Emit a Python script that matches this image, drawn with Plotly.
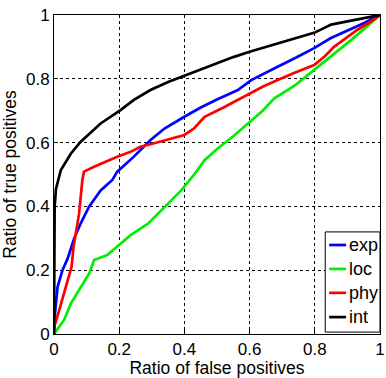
import plotly.graph_objects as go

names = ["exp", "loc", "phy", "int"]
colors = ["#0000ff", "#00ee00", "#ff0000", "#000000"]

exp_x = [0, 0.001, 0.011, 0.026, 0.042, 0.062, 0.082, 0.108, 0.143, 0.179, 0.194, 0.245, 0.296, 0.34, 0.40, 0.45, 0.50, 0.55, 0.564, 0.605, 0.64, 0.686, 0.74, 0.798, 0.848, 0.9, 0.95, 1.0]
exp_y = [0, 0.044, 0.148, 0.20, 0.237, 0.30, 0.347, 0.40, 0.45, 0.483, 0.509, 0.556, 0.608, 0.645, 0.681, 0.71, 0.735, 0.758, 0.765, 0.796, 0.815, 0.838, 0.865, 0.896, 0.927, 0.95, 0.974, 1.0]

loc_x = [0, 0.031, 0.052, 0.082, 0.108, 0.123, 0.143, 0.164, 0.194, 0.235, 0.29, 0.34, 0.391, 0.43, 0.462, 0.50, 0.55, 0.595, 0.64, 0.676, 0.74, 0.798, 0.85, 0.899, 0.95, 1.0]
loc_y = [0, 0.044, 0.096, 0.148, 0.19, 0.232, 0.24, 0.248, 0.274, 0.31, 0.347, 0.40, 0.451, 0.50, 0.545, 0.58, 0.62, 0.66, 0.70, 0.739, 0.78, 0.828, 0.87, 0.911, 0.955, 1.0]

phy_x = [0, 0.001, 0.016, 0.031, 0.047, 0.054, 0.06, 0.067, 0.077, 0.087, 0.092, 0.123, 0.159, 0.194, 0.235, 0.265, 0.296, 0.35, 0.40, 0.43, 0.462, 0.52, 0.595, 0.64, 0.686, 0.74, 0.798, 0.83, 0.859, 0.9, 0.93, 0.97, 1.0]
phy_y = [0, 0.023, 0.075, 0.128, 0.18, 0.211, 0.274, 0.316, 0.378, 0.483, 0.509, 0.524, 0.54, 0.556, 0.571, 0.587, 0.595, 0.61, 0.624, 0.645, 0.681, 0.71, 0.749, 0.775, 0.796, 0.82, 0.843, 0.87, 0.90, 0.93, 0.953, 0.978, 1.0]

int_x = [0, 0.001, 0.002, 0.006, 0.021, 0.052, 0.082, 0.143, 0.204, 0.245, 0.296, 0.35, 0.4, 0.45, 0.5, 0.55, 0.6, 0.65, 0.7, 0.75, 0.8, 0.82, 0.85, 0.9, 0.95, 1.0]
int_y = [0, 0.2, 0.4, 0.455, 0.514, 0.566, 0.603, 0.66, 0.702, 0.734, 0.765, 0.79, 0.81, 0.83, 0.85, 0.868, 0.885, 0.9, 0.915, 0.93, 0.945, 0.955, 0.97, 0.98, 0.99, 1.0]

series = [(exp_x, exp_y), (loc_x, loc_y), (phy_x, phy_y), (int_x, int_y)]

tick_vals = [0, 0.2, 0.4, 0.6, 0.8, 1]
tick_text = ["0", "0.2", "0.4", "0.6", "0.8", "1"]

fig = go.Figure()
for n, c, (xs, ys) in zip(names, colors, series):
    fig.add_trace(go.Scatter(x=xs, y=ys, mode="lines", name=n, showlegend=False,
                             line=dict(color=c, width=2.7)))

font = "Liberation Sans, Arial, sans-serif"
axis_common = dict(range=[0, 1], tickvals=tick_vals, ticktext=tick_text,
                   showgrid=True, gridcolor="#000000", griddash="dot", gridwidth=1,
                   showline=True, linecolor="#000000", linewidth=1, mirror=True,
                   ticks="inside", ticklen=4, tickcolor="#000000",
                   zeroline=False, automargin=False,
                   tickfont=dict(family=font, size=17, color="#000"))

# manual MATLAB-style legend (paper coordinates)
leg_x0, leg_x1, leg_y0, leg_y1 = 0.832, 1.0, 0.006, 0.32
leg_rows = [0.279, 0.204, 0.129, 0.053]
shapes = [dict(type="rect", xref="paper", yref="paper", x0=leg_x0, x1=leg_x1,
               y0=leg_y0, y1=leg_y1, line=dict(color="#000", width=1),
               fillcolor="white", layer="above")]
annotations = []
for n, c, ry in zip(names, colors, leg_rows):
    shapes.append(dict(type="line", xref="paper", yref="paper", x0=0.844, x1=0.896,
                       y0=ry, y1=ry, line=dict(color=c, width=2.7), layer="above"))
    annotations.append(dict(text=n, xref="paper", yref="paper", x=0.898, y=ry,
                            xanchor="left", yanchor="middle", showarrow=False,
                            font=dict(family=font, size=18, color="#000")))

fig.update_layout(
    width=386, height=378,
    margin=dict(l=54, r=6, t=15, b=44),
    paper_bgcolor="white", plot_bgcolor="white",
    font=dict(family=font, size=17, color="#000"),
    showlegend=False,
    shapes=shapes, annotations=annotations,
)
fig.update_xaxes(**axis_common, ticklabeloverflow="allow",
                 title=dict(text="Ratio of false positives", standoff=2,
                            font=dict(family=font, size=17.5)))
fig.update_yaxes(**axis_common,
                 title=dict(text="Ratio of true positives", standoff=4,
                            font=dict(family=font, size=17.5)))

fig.write_html("out.html")
